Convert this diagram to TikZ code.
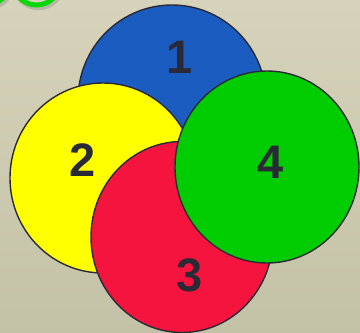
\documentclass[tikz,border=0pt]{standalone}
\usepackage{fontspec}
\setmainfont{Liberation Sans}
\definecolor{bgtop}{RGB}{214,211,186}
\definecolor{bgbot}{RGB}{195,193,166}
\definecolor{cblue}{RGB}{26,92,191}
\definecolor{cyellow}{RGB}{255,255,0}
\definecolor{cred}{RGB}{245,20,62}
\definecolor{cgreen}{RGB}{0,204,0}
\definecolor{ink}{RGB}{42,42,54}
\definecolor{ringgreen}{RGB}{10,215,10}
\begin{document}
\begin{tikzpicture}[x=1pt,y=-1pt,
  disc/.style={draw=ink,line width=1.4pt},
  ring/.style={ringgreen,line width=5pt},
  ringshadow/.style={black!45,opacity=0.4,line width=5.5pt},
  num/.style={text=ink,font=\fontsize{47}{47}\selectfont\bfseries,inner sep=0pt}]
\useasboundingbox (0,0) rectangle (360,333);
\shade[top color=bgtop,bottom color=bgbot] (0,0) rectangle (360,333);
\begin{scope}
\clip (0,0) rectangle (360,333);
% green rings with shadow at top-left
\draw[ringshadow] (38.5,-16.5) circle (24);
\draw[ringshadow] (-12,-16.5) circle (24);
\draw[ring] (36.5,-19) circle (24);
\draw[ring] (-14,-19) circle (24);
% discs
\draw[disc,fill=cblue] (172,100) ellipse [x radius=94,y radius=95];
\draw[disc,fill=cyellow] (103,178) ellipse [x radius=93,y radius=95];
\draw[disc,fill=cred] (182,237) ellipse [x radius=91,y radius=95.5];
\draw[disc,fill=cgreen] (267,167) ellipse [x radius=92,y radius=96];
\end{scope}
\node[num] (n1) at (180,57) {1};
\node[num] (n2) at (83,160) {2};
\node[num] (n3) at (190,275) {3};
\node[num] (n4) at (271,162) {4};
\end{tikzpicture}
\end{document}
